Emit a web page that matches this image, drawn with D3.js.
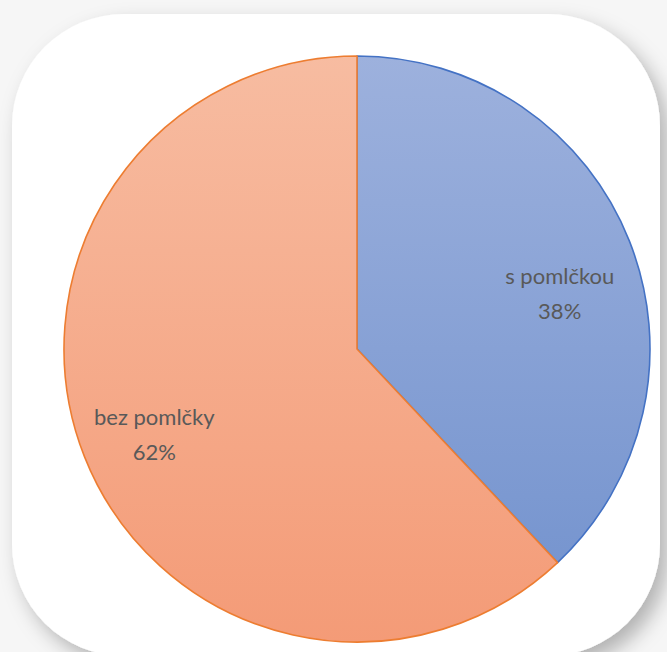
<!DOCTYPE html>
<html><head><meta charset="utf-8">
<script src="https://cdn.jsdelivr.net/npm/d3@7"></script>
<style>html,body{margin:0;padding:0;background:#f6f6f6;}svg{display:block;}</style>
</head><body>
<script>
const categories = ["s pomlčkou", "bez pomlčky"];
const values = [38, 62];
const percentLabels = ["38%", "62%"];

const W = 667, H = 652;
const svg = d3.select("body").append("svg").attr("width", W).attr("height", H);
const defs = svg.append("defs");

const f = defs.append("filter").attr("id","sh").attr("x","-10%").attr("y","-10%").attr("width","130%").attr("height","130%");
f.append("feDropShadow").attr("dx",8).attr("dy",10).attr("stdDeviation",10).attr("flood-color","#000").attr("flood-opacity",0.28);

svg.append("rect").attr("width",W).attr("height",H).attr("fill","#f6f6f6");
svg.append("rect").attr("x",12).attr("y",14).attr("width",648).attr("height",642).attr("rx",112).attr("ry",112)
  .attr("fill","#fff").attr("filter","url(#sh)");

const cx = 357, cy = 349, r = 293;
const gradInfo = [["gBlue","#9db1dd","#7191cd"],["gOrange","#f7bca1","#f49b77"]];
gradInfo.forEach(([id,a,b])=>{
  const g = defs.append("linearGradient").attr("id",id).attr("gradientUnits","userSpaceOnUse")
    .attr("x1",0).attr("y1",-r).attr("x2",0).attr("y2",r);
  g.append("stop").attr("offset","0%").attr("stop-color",a);
  g.append("stop").attr("offset","100%").attr("stop-color",b);
});
const fills = ["url(#gBlue)","url(#gOrange)"];
const strokes = ["#4472c4","#ed7d31"];
const labelShift = [15, -4];

const pie = d3.pie().sort(null).value(d=>d)(values);
const arc = d3.arc().innerRadius(0).outerRadius(r);
const g = svg.append("g").attr("transform",`translate(${cx},${cy})`);
g.selectAll("path.s").data(pie).join("path").attr("class","s")
  .attr("d",arc).attr("fill",(d,i)=>fills[i]).attr("stroke",(d,i)=>strokes[i]).attr("stroke-width",1.6)
  .attr("stroke-linejoin","round");

const labelArc = d3.arc().innerRadius(218).outerRadius(218);
const lab = g.selectAll("text.l").data(pie).join("text").attr("class","l")
  .attr("transform",(d,i)=>{const c=labelArc.centroid(d);return `translate(${c[0]},${c[1]+labelShift[i]})`;})
  .attr("text-anchor","middle").attr("font-family","Lato, 'Open Sans', sans-serif").attr("font-size",22)
  .attr("fill","#595959");
lab.append("tspan").attr("x",0).attr("y",0).text((d,i)=>categories[i]);
lab.append("tspan").attr("x",0).attr("y",35).text((d,i)=>percentLabels[i]);
</script>
</body></html>
